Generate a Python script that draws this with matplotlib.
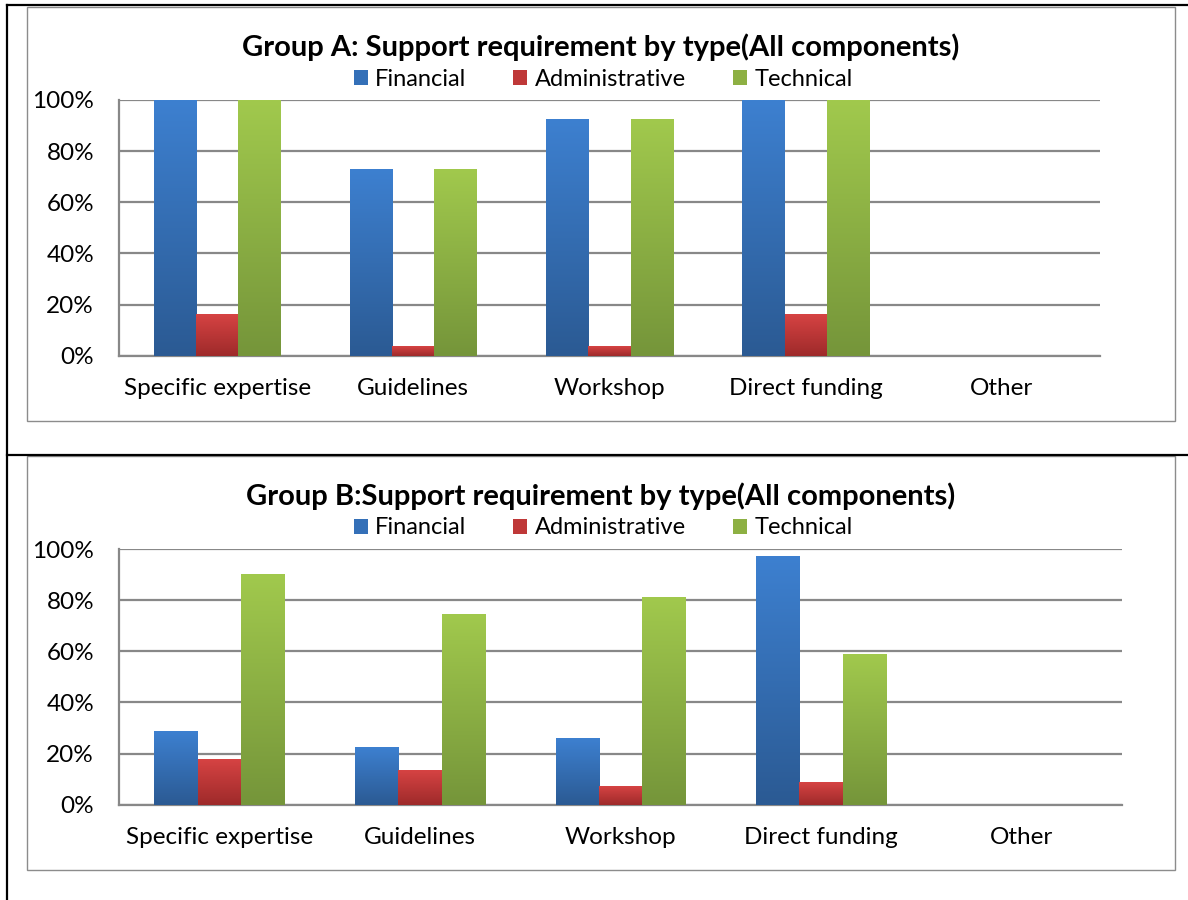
import numpy as np
import matplotlib.pyplot as plt
from matplotlib.patches import Patch, Rectangle
from matplotlib.lines import Line2D
from matplotlib.colors import LinearSegmentedColormap

plt.rcParams['font.family'] = ['Lato', 'DejaVu Sans']

# data (percent)
categories = ['Specific expertise', 'Guidelines', 'Workshop', 'Direct funding', 'Other']
series = ['Financial', 'Administrative', 'Technical']

group_a_financial = [100, 72.8, 92.3, 100, 0]
group_a_admin = [16.4, 3.8, 3.8, 16.4, 0]
group_a_technical = [100, 72.8, 92.3, 100, 0]

group_b_financial = [28.9, 22.3, 26.0, 97.2, 0]
group_b_admin = [17.8, 13.6, 7.2, 8.9, 0]
group_b_technical = [90.1, 74.6, 81.1, 59.0, 0]

titles = ['Group A: Support requirement by type(All components)',
          'Group B:Support requirement by type(All components)']

# gradient colours (top, bottom)
grads = [('#3d80d0', '#2b5a93'), ('#d64343', '#9e2a2a'), ('#a1c94d', '#75953a')]
mids = ['#3470b8', '#bf3838', '#8db043']

W, H = 1188, 900
fig = plt.figure(figsize=(W / 100, H / 100), dpi=100)


def fx(px):
    return px / W


def fy(py):
    return 1 - py / H


# table borders
for xs, ys in [((7, 7), (5, 900)), ((7, 1188), (5, 5)), ((7, 1188), (455, 455))]:
    fig.add_artist(Line2D([fx(x) for x in xs], [fy(y) for y in ys],
                          color='black', lw=1.6, transform=fig.transFigure))

# chart frames
for top, bot in [(7, 421), (456, 870)]:
    fig.add_artist(Rectangle((fx(27), fy(bot)), fx(1175) - fx(27), fy(top) - fy(bot),
                             fill=False, edgecolor='#8c8c8c', lw=1.0,
                             transform=fig.transFigure))

layouts = [
    dict(left=119, right=1100, top=100, bottom=355.7, title_y=47, leg_y=79,
         data=[group_a_financial, group_a_admin, group_a_technical]),
    dict(left=119, right=1122, top=549, bottom=804.7, title_y=496, leg_y=528,
         data=[group_b_financial, group_b_admin, group_b_technical]),
]

x = np.arange(len(categories))
bw = 0.216

for i, lay in enumerate(layouts):
    ax = fig.add_axes([fx(lay['left']), fy(lay['bottom']),
                       fx(lay['right']) - fx(lay['left']),
                       fy(lay['top']) - fy(lay['bottom'])])
    for j, vals in enumerate(lay['data']):
        bars = ax.bar(x + (j - 1) * bw, vals, width=bw, color='none', zorder=3)
        cmap = LinearSegmentedColormap.from_list('g%d' % j, [grads[j][1], grads[j][0]])
        grad = np.linspace(0, 1, 256).reshape(-1, 1)
        for b in bars:
            h = b.get_height()
            if h <= 0:
                continue
            ax.imshow(grad, cmap=cmap, origin='lower', aspect='auto', zorder=3,
                      extent=(b.get_x(), b.get_x() + b.get_width(), 0, h))
    ax.set_xlim(-0.5, len(categories) - 0.5)
    ax.set_ylim(0, 100)

    ax.set_yticks([0, 20, 40, 60, 80, 100])
    ax.set_yticklabels(['%d%%' % v for v in [0, 20, 40, 60, 80, 100]])
    ax.set_xticks(x)
    ax.set_xticklabels(categories)
    ax.tick_params(axis='both', length=0, labelsize=17.5, colors='black')
    ax.tick_params(axis='y', pad=18)
    ax.tick_params(axis='x', pad=16)
    ax.yaxis.grid(True, color='#888888', lw=1.6, zorder=1)
    ax.set_axisbelow(True)
    for s in ['top', 'right']:
        ax.spines[s].set_visible(False)
    for s in ['left', 'bottom']:
        ax.spines[s].set_color('#888888')
        ax.spines[s].set_linewidth(1.6)

    fig.text(fx(601), fy(lay['title_y']), titles[i], ha='center', va='center',
             fontsize=21, fontweight='bold')

    handles = [Patch(facecolor=mids[k], edgecolor='none') for k in range(3)]
    fig.legend(handles, series, loc='center', ncol=3, frameon=False,
               bbox_to_anchor=(fx(603), fy(lay['leg_y'])), fontsize=17,
               handlelength=0.6, handleheight=0.6, handletextpad=0.3,
               columnspacing=2.0, borderpad=0, borderaxespad=0)

fig.savefig('out.png', dpi=100)
